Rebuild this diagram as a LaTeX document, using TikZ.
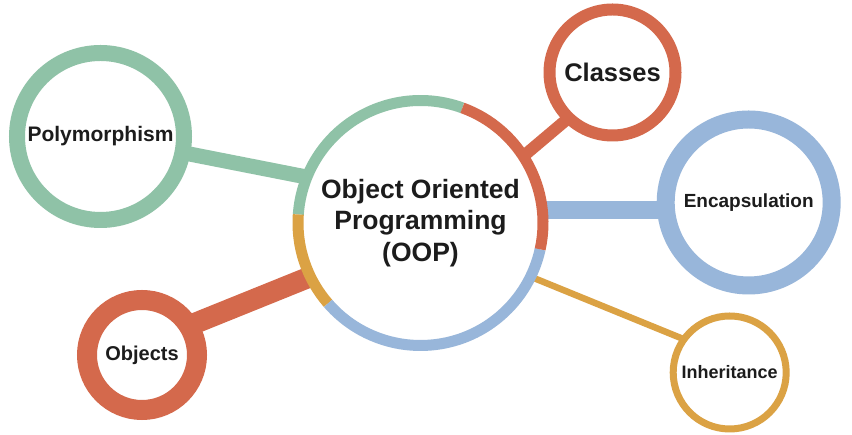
\documentclass[tikz,border=0pt]{standalone}
\usepackage{fontspec}
\setmainfont{Liberation Sans}
\usetikzlibrary{backgrounds}
\definecolor{cgreen}{HTML}{8FC2A7}
\definecolor{cred}{HTML}{D4694C}
\definecolor{cblue}{HTML}{98B6DA}
\definecolor{cgold}{HTML}{DBA244}
\definecolor{ctext}{HTML}{1C1C1C}
\begin{document}
\begin{tikzpicture}[x=1pt,y=1pt,
  bubble/.style={circle, fill=white, inner sep=0pt, outer sep=0pt, text=ctext, align=center},
  seg/.style={line width=11pt, line cap=butt},
  link/.style={line cap=butt}]
\useasboundingbox (0,0) rectangle (852,435);

% central node
\node[bubble, minimum size=245pt, font=\bfseries\fontsize{26.5}{31.2}\selectfont] (oop) at (420.5,212) {Object Oriented\\Programming\\(OOP)};
\draw[seg, cgreen] ([shift={(70:122.5)}]oop.center) arc[start angle=70, end angle=176, radius=122.5];
\draw[seg, cgold] ([shift={(176:122.5)}]oop.center) arc[start angle=176, end angle=221, radius=122.5];
\draw[seg, cblue] ([shift={(221:122.5)}]oop.center) arc[start angle=221, end angle=347.6, radius=122.5];
\draw[seg, cred] ([shift={(-12.4:122.5)}]oop.center) arc[start angle=-12.4, end angle=70, radius=122.5];

% satellites
\node[bubble, draw=cgreen, line width=16pt, minimum size=167pt, font=\bfseries\fontsize{21}{25}\selectfont] (poly) at (100.5,298.5) {Polymorphism};
\node[bubble, draw=cred, line width=12pt, minimum size=126pt, font=\bfseries\fontsize{25.5}{30}\selectfont] (classes) at (612.5,362.5) {Classes};
\node[bubble, draw=cblue, line width=18pt, minimum size=166pt, font=\bfseries\fontsize{19}{23}\selectfont] (encap) at (748.7,232.5) {Encapsulation};
\node[bubble, draw=cgold, line width=7pt, minimum size=113pt, font=\bfseries\fontsize{18}{22}\selectfont] (inherit) at (729.7,62.5) {Inheritance};
\node[bubble, draw=cred, line width=20pt, minimum size=110pt, font=\bfseries\fontsize{20}{24}\selectfont] (objects) at (142,80) {Objects};

\begin{scope}[on background layer]
\fill[white] (0,0) rectangle (852,435);
\draw[link, cgreen, line width=15pt] (poly.center) -- (oop.158.7);
\draw[link, cred, line width=12pt] (oop.33.3) -- (classes.226.5);
\draw[link, cblue, line width=18pt] (oop.6.5) -- (oop.6.5 -| encap.west);
\draw[link, cgold, line width=6.5pt] (oop.334.5) -- (inherit.144.7);
\draw[link, cred, line width=21pt] (oop.206) -- (objects.32.3);
\end{scope}
\end{tikzpicture}
\end{document}
